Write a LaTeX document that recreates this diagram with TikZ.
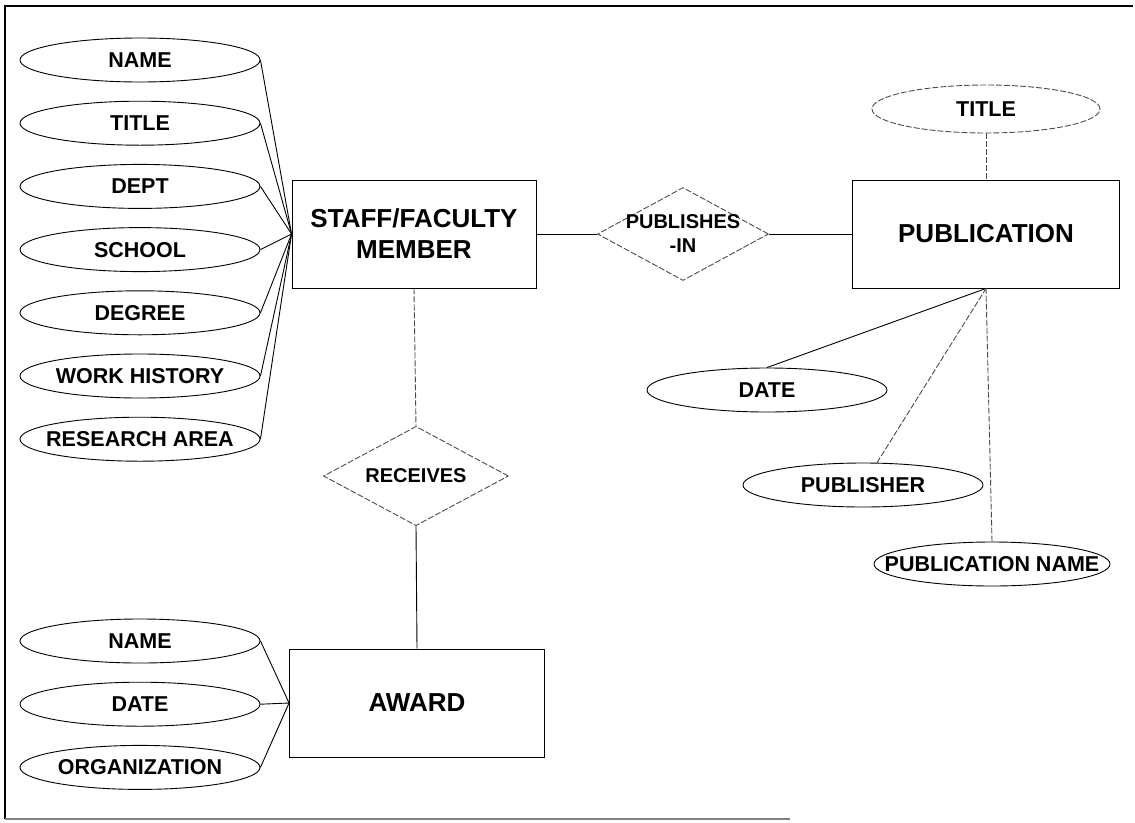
\documentclass[tikz,border=0pt]{standalone}
\usepackage{fontspec}
\setmainfont{Liberation Sans}
\usetikzlibrary{shapes, positioning}

\begin{document}
\begin{tikzpicture}[x=1pt, y=-1pt, line width=0.9pt,
        entity/.style={draw, minimum width=244pt, minimum height=108pt, align=center,
            font=\fontsize{26}{31}\selectfont\bfseries},
        attr/.style={draw, ellipse, minimum width=240pt, minimum height=44pt,
            inner xsep=-40pt, inner ysep=0pt, font=\fontsize{21.5}{24}\selectfont\bfseries},
        rel/.style={draw=black!70, diamond, dash pattern=on 6pt off 2pt, inner xsep=-8pt, inner ysep=0pt,
            align=center, font=\fontsize{20}{24}\selectfont\bfseries},
        faint/.style={draw=black!70, dash pattern=on 6pt off 2pt},
        node distance=18.3pt]

        \useasboundingbox (0,0) rectangle (1135,822);

        % Frame
        \draw[line width=1.8pt] (1133,6) -- (5,6) -- (5,819);
        \draw[line width=1.2pt, black!50] (5,819) -- (790,819);

        % Staff/Faculty member
        \node[entity] (staff) at (414,234) {STAFF/FACULTY\\MEMBER};

        % Staff attributes
        \node[attr] (sname) at (140,60) {NAME};
        \node[attr, below=of sname] (stitle) {TITLE};
        \node[attr, below=of stitle] (sdept) {DEPT};
        \node[attr, below=of sdept] (sschool) {SCHOOL};
        \node[attr, below=of sschool] (sdegree) {DEGREE};
        \node[attr, below=of sdegree] (swork) {WORK HISTORY};
        \node[attr, below=of swork] (sresearch) {RESEARCH AREA};
        \foreach \a in {sname, stitle, sdept, sschool, sdegree, swork, sresearch}
            \draw (\a.east) -- (staff.west);

        % Publishes-in relationship
        \node[rel, minimum width=171pt, minimum height=93pt, aspect=1.85] (publishes) at (683,234) {PUBLISHES\\-IN};
        \draw (staff) -- (publishes);

        % Publication
        \node[entity, minimum width=267pt] (pub) at (986,234) {PUBLICATION};
        \draw (publishes) -- (pub);

        % Publication attributes
        \node[attr, faint, minimum width=228pt, minimum height=48pt] (ptitle) at (986,109) {TITLE};
        \draw[faint] (ptitle) -- (pub);
        \node[attr] (pdate) at (767,390) {DATE};
        \draw (pdate.north) -- (pub.south);
        \node[attr] (ppublisher) at (863,485) {PUBLISHER};
        \draw[faint] (ppublisher) -- (pub.south);
        \node[attr, minimum width=236pt] (pname) at (992,564) {PUBLICATION NAME};
        \draw[faint] (pname.north) -- (pub.south);

        % Receives relationship
        \node[rel, minimum width=185pt, minimum height=95pt] (receives) at (416,476) {RECEIVES};
        \draw[faint] (staff.south) -- (receives.north);

        % Award
        \node[entity, minimum width=255pt] (award) at (417,703) {AWARD};
        \draw (receives.south) -- (award.north);

        % Award attributes
        \node[attr] (aname) at (140,641) {NAME};
        \node[attr, below=of aname] (adate) {DATE};
        \node[attr, below=of adate] (aorg) {ORGANIZATION};
        \foreach \a in {aname, adate, aorg}
            \draw (\a.east) -- (award.west);

\end{tikzpicture}
\end{document}
